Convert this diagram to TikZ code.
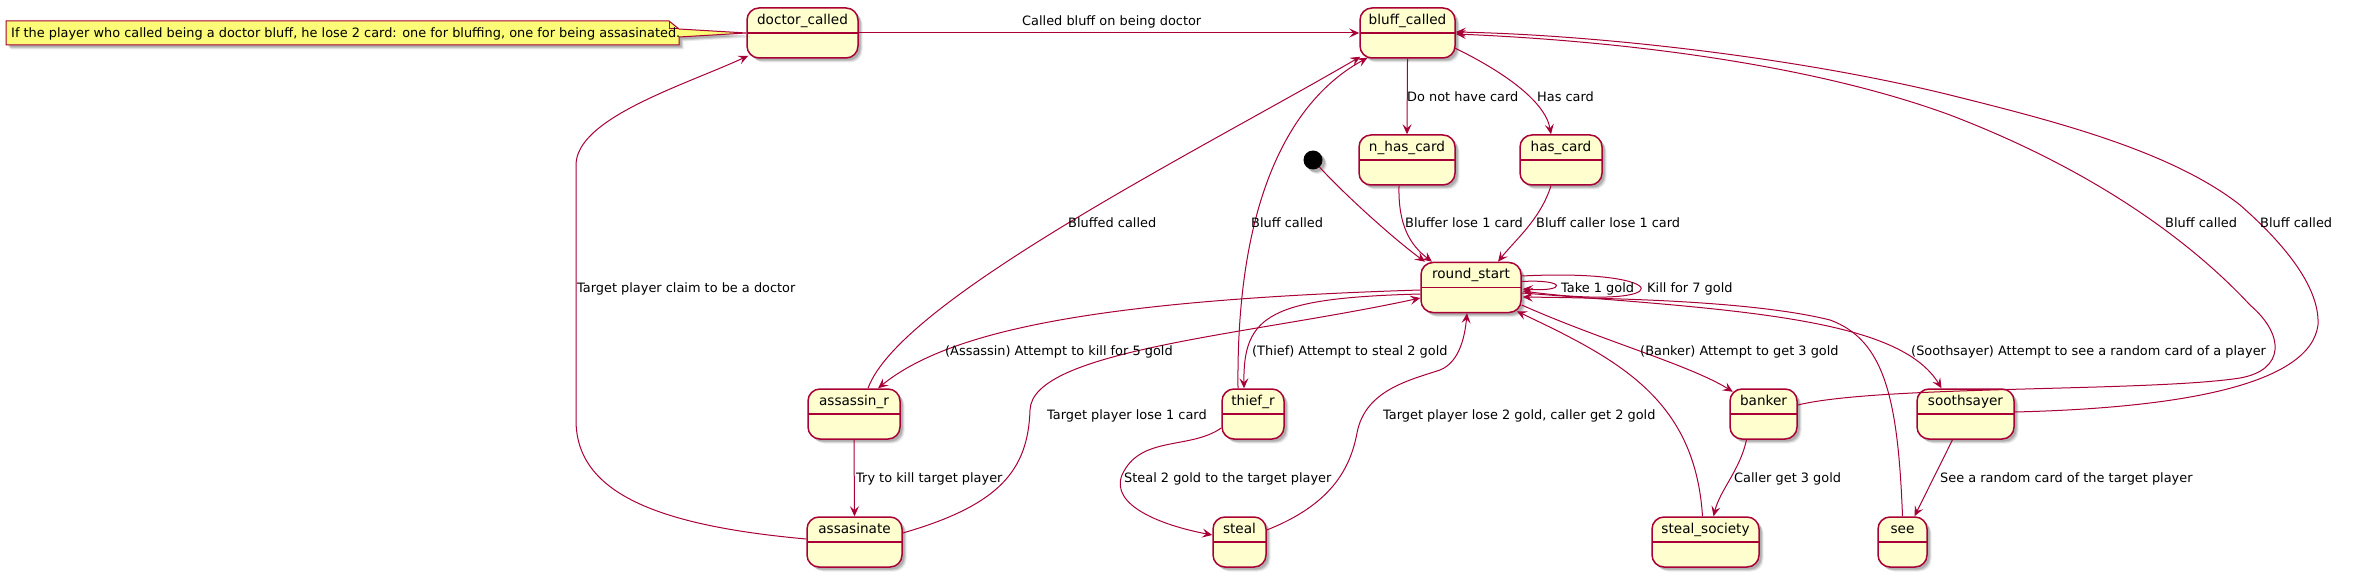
\documentclass[tikz,border=0pt]{standalone}
\usepackage{fontspec}
\setmainfont{DejaVu Sans}
\usetikzlibrary{arrows.meta,shadows,calc}
\definecolor{pcrim}{HTML}{A80036}
\definecolor{pfill}{HTML}{FEFECE}
\definecolor{pnote}{HTML}{FBFB77}
\newcommand{\stfont}{\fontsize{13.6}{16}\selectfont}
\newcommand{\lbfont}{\fontsize{12.9}{15}\selectfont}
\begin{document}
\begin{tikzpicture}[x=1pt,y=-1pt,
  shd/.style={drop shadow={shadow xshift=4.5pt, shadow yshift=-4.5pt, opacity=0.08, fill=black},
              drop shadow={shadow xshift=3.5pt, shadow yshift=-3.5pt, opacity=0.12, fill=black},
              drop shadow={shadow xshift=2.5pt, shadow yshift=-2.5pt, opacity=0.15, fill=black}},
  stbox/.style={draw=pcrim, fill=pfill, line width=1.5pt, rounded corners=12pt,
    inner xsep=0pt, inner ysep=0pt, text height=16.5pt, text depth=33.5pt, font=\stfont, shd,
    path picture={\draw[pcrim, line width=1.5pt] (path picture bounding box.west) -- (path picture bounding box.east);}},
  tr/.style={draw=pcrim, line width=1pt, -{Stealth[length=10pt,width=9pt,inset=4pt]}},
  lbl/.style={anchor=base west, inner sep=0pt, font=\lbfont}]
\fill[white] (0,0) rectangle (2357,577);
\useasboundingbox (0,0) rectangle (2357,577);
% states
\node[stbox, minimum width=111pt] (doctor) at (802.5,33) {doctor\_called};
\node[stbox, minimum width=95pt] (bluff) at (1407.5,33) {bluff\_called};
\node[stbox, minimum width=96pt] (nhas) at (1407,160) {n\_has\_card};
\node[stbox, minimum width=82pt] (has) at (1561,160) {has\_card};
\node[circle, fill=black, minimum size=19pt, inner sep=0pt, shd] (start) at (1313,160) {};
\node[stbox, minimum width=100pt] (rs) at (1471,287.5) {round\_start};
\node[stbox, minimum width=92pt] (assr) at (854,414) {assassin\_r};
\node[stbox, minimum width=62pt] (thief) at (1253,414) {thief\_r};
\node[stbox, minimum width=67pt] (banker) at (1763.5,414) {banker};
\node[stbox, minimum width=97pt] (sooth) at (1965.5,414) {soothsayer};
\node[stbox, minimum width=95pt] (assa) at (854.5,542) {assasinate};
\node[stbox, minimum width=53pt] (steal) at (1239.5,542) {steal};
\node[stbox, minimum width=107pt] (ssoc) at (1705.5,542) {steal\_society};
\node[stbox, minimum width=49pt] (see) at (1902.5,542) {see};
% note
\path[draw=pcrim, fill=pnote, line width=1pt, shd] (6,21) -- (669,21) -- (679,29) -- (doctor.west) -- (679,37) -- (679,45) -- (6,45) -- cycle;
\draw[pcrim, line width=1pt] (669,21) -- (669,29) -- (679,29);
\node[anchor=base west, inner sep=0pt, font=\lbfont] (note) at (11,37.5) {If the player who called being a doctor bluff, he lose 2 card: one for bluffing, one for being assasinated.};
% transitions
\draw[tr] (doctor.east) -- (bluff.west);
\draw[tr] (bluff.south) -- (nhas.north);
\draw[tr] ($(bluff.east)+(-1,15)$) .. controls (1500,70) and (1545,100) .. ($(has.north)+(-10,0)$);
\draw[tr] ($(nhas.south)+(-8,0)$) .. controls (1398,225) and (1410,245) .. ($(rs.north)+(-39,0)$);
\draw[tr] ($(has.south)+(-10,0)$) .. controls (1540,220) and (1515,240) .. ($(rs.north)+(27,0)$);
\draw[tr] (start) .. controls (1345,195) and (1395,240) .. ($(rs.north)+(-46,0)$);
\draw[tr] ($(rs.east)+(0,-6)$) .. controls (1567,279) and (1567,292) .. ($(rs.east)+(1,1.5)$);
\draw[tr] ($(rs.east)+(0,-11.5)$) .. controls (1680,268) and (1680,312) .. ($(rs.east)+(1,3.5)$);
\draw[tr] ($(rs.west)+(0,2.5)$) .. controls (1100,300) and (950,330) .. ($(assr.north)+(24,0)$);
\draw[tr] ($(assr.north)+(14,0)$) .. controls (900,300) and (1200,150) .. ($(bluff.south west)+(1,-2)$);
\draw[tr] ($(thief.north)+(-15,0)$) .. controls (1236,200) and (1290,100) .. ($(bluff.south)+(-40,-1)$);
\draw[tr] ($(rs.west)+(0,6.5)$) .. controls (1270,298) and (1243,315) .. ($(thief.north)+(-9,0)$);
\draw[tr] ($(assa.east)+(0,-9)$) .. controls (1000,505) and (1028,470) .. (1030,410) .. controls (1032,350) and (1250,335) .. ($(rs.west)+(0,10.5)$);
\draw[tr] (assr.south) -- (assa.north);
\draw[tr] ($(assa.west)+(0,-3)$) .. controls (650,525) and (576,490) .. (576,420) -- (576,165) .. controls (576,118) and (685,85) .. ($(doctor.south west)+(2,-3)$);
\draw[tr] ($(thief.west)+(0,14)$) .. controls (1190,450) and (1140,435) .. (1122,475) .. controls (1110,505) and (1160,525) .. ($(steal.west)+(0,-7)$);
\draw[tr] ($(steal.east)+(0,-12)$) .. controls (1330,505) and (1350,470) .. (1357,433) .. controls (1365,390) and (1410,380) .. (1440,370) .. controls (1460,362) and (1465,335) .. ($(rs.south)+(-4,0)$);
\draw[tr] ($(rs.east)+(0,17.5)$) .. controls (1600,340) and (1690,365) .. ($(banker.north west)+(3.5,3.5)$);
\draw[tr] ($(ssoc.north)+(-3,0)$) .. controls (1695,400) and (1620,360) .. ($(rs.south east)+(-5,-2)$);
\draw[tr] (see.north) .. controls (1898,400) and (1885,340) .. (1830,320) .. controls (1750,300) and (1600,298) .. ($(rs.east)+(1,9.5)$);
\draw[tr] ($(rs.east)+(0,5.5)$) .. controls (1750,310) and (1900,320) .. ($(sooth.north)+(-24,0)$);
\draw[tr] ($(banker.south)+(-17,0)$) .. controls (1740,470) and (1720,490) .. ($(ssoc.north)+(8,0)$);
\draw[tr] ($(sooth.south)+(-13,0)$) -- ($(see.north)+(12,0)$);
\draw[tr] ($(banker.east)+(0,-9)$) .. controls (1880,385) and (2150,392) .. (2240,378) .. controls (2285,370) and (2285,335) .. (2250,305) .. controls (2210,262) and (2120,180) .. (1950,115) .. controls (1800,60) and (1600,40) .. ($(bluff.east)+(0,1)$);
\draw[tr] ($(sooth.east)+(0,-2)$) .. controls (2180,408) and (2310,385) .. (2318,325) .. controls (2320,285) and (2280,240) .. (2240,205) .. controls (2170,150) and (2050,120) .. (1950,95) .. controls (1800,58) and (1600,35) .. ($(bluff.east)+(0,-1)$);
% labels
\node[lbl] (l1) at (1022,26) {Called bluff on being doctor};
\node[lbl] (l2) at (1407,101.5) {Do not have card};
\node[lbl] (l3) at (1537,101.5) {Has card};
\node[lbl] (l4) at (1405,227.5) {Bluffer lose 1 card};
\node[lbl] (l5) at (1536,227.5) {Bluff caller lose 1 card};
\node[lbl] (l6) at (1251,227.5) {Bluff called};
\node[lbl] (l7) at (1068,227.5) {Bluffed called};
\node[lbl] (l8) at (577,292.5) {Target player claim to be a doctor};
\node[lbl] (l9) at (1561,292.5) {Take 1 gold};
\node[lbl] (l10) at (1647,292.5) {Kill for 7 gold};
\node[lbl] (l11) at (945,355.5) {(Assassin) Attempt to kill for 5 gold};
\node[lbl] (l12) at (1252,355.5) {(Thief) Attempt to steal 2 gold};
\node[lbl] (l13) at (1640,355.5) {(Banker) Attempt to get 3 gold};
\node[lbl] (l14) at (1911,355.5) {(Soothsayer) Attempt to see a random card of a player};
\node[lbl] (l15) at (1047,419) {Target player lose 1 card};
\node[lbl] (l16) at (1383,419) {Target player lose 2 gold, caller get 2 gold};
\node[lbl] (l17) at (856,482.5) {Try to kill target player};
\node[lbl] (l18) at (1124,482.5) {Steal 2 gold to the target player};
\node[lbl] (l19) at (1734,482.5) {Caller get 3 gold};
\node[lbl] (l20) at (1940,482.5) {See a random card of the target player};
\node[lbl] (l21) at (2165,227.5) {Bluff called};
\node[lbl] (l22) at (2260,227.5) {Bluff called};
\end{tikzpicture}
\end{document}
